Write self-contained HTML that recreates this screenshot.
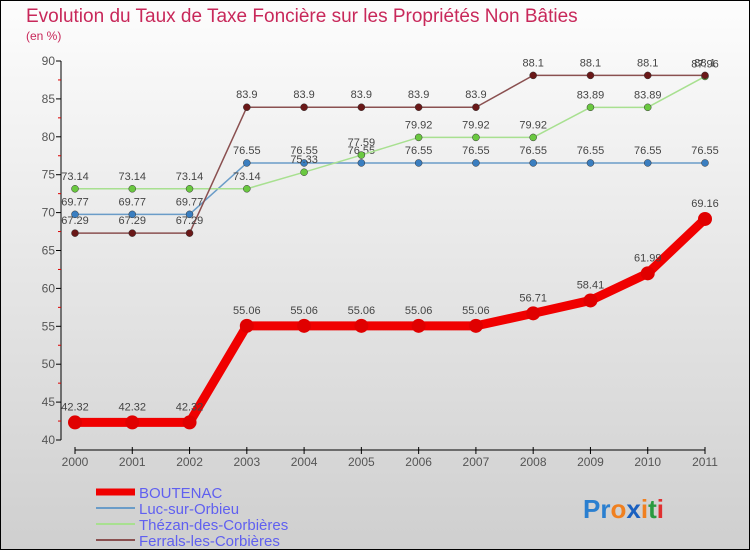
<!DOCTYPE html>
<html><head><meta charset="utf-8"><style>
body{margin:0}
svg{display:block;font-family:"Liberation Sans",sans-serif}
</style></head><body>
<svg id="chart" width="750" height="550" xmlns="http://www.w3.org/2000/svg">
<defs><linearGradient id="bg" x1="0" y1="0" x2="0" y2="1"><stop offset="0" stop-color="#fdfdfd"/><stop offset="1" stop-color="#cfcfcf"/></linearGradient></defs>
<rect x="0.5" y="0.5" width="749" height="549" fill="url(#bg)" stroke="#000"/>
<text x="26" y="22" font-size="19" fill="#c8285a">Evolution du Taux de Taxe Foncière sur les Propriétés Non Bâties</text>
<text x="26" y="40" font-size="12" fill="#c8285a">(en %)</text>
<g id="axes"></g><g id="series"></g><g id="legend"></g>
<text x="583" y="518" font-size="26" font-weight="bold"><tspan fill="#2a7fd0">Pr</tspan><tspan fill="#f08020">o</tspan><tspan fill="#1a60c0">x</tspan><tspan fill="#f08020">i</tspan><tspan fill="#2a9a40">t</tspan><tspan fill="#e03030">i</tspan></text>
</svg>
<script>
const years=[2000,2001,2002,2003,2004,2005,2006,2007,2008,2009,2010,2011];
const yTicks=[40,45,50,55,60,65,70,75,80,85,90];
const boutenac=[42.32,42.32,42.32,55.06,55.06,55.06,55.06,55.06,56.71,58.41,61.99,69.16];
const luc=[69.77,69.77,69.77,76.55,76.55,76.55,76.55,76.55,76.55,76.55,76.55,76.55];
const thezan=[73.14,73.14,73.14,73.14,75.33,77.59,79.92,79.92,79.92,83.89,83.89,87.96];
const ferrals=[67.29,67.29,67.29,83.9,83.9,83.9,83.9,83.9,88.1,88.1,88.1,88.1];
const seriesNames=["BOUTENAC","Luc-sur-Orbieu","Thézan-des-Corbières","Ferrals-les-Corbières"];
const NS="http://www.w3.org/2000/svg";
const X=i=>75+i*(705-75)/(years.length-1);
const Y=v=>440-(v-40)*(440-61)/50;
function mk(tag,attrs,parent){const e=document.createElementNS(NS,tag);for(const k in attrs)e.setAttribute(k,attrs[k]);parent.appendChild(e);return e;}
const ax=document.getElementById('axes');
let yl=mk('line',{x1:61,y1:Y(90),x2:61,y2:Y(40),stroke:'#000'},ax);


for(let v=40;v<=90;v+=2.5){const isMaj=v%5===0;const t=mk('line',{x1:isMaj?56:58,x2:61,y1:Y(v),y2:Y(v),stroke:isMaj?'#000':'#d00'},ax);

}
yTicks.forEach(v=>{const t=mk('text',{x:55,y:Y(v)+4,'font-size':12,fill:'#555','text-anchor':'end'},ax);t.textContent=v;

});
let xl=mk('line',{x1:X(0),y1:450,x2:X(11),y2:450,stroke:'#000'},ax);


years.forEach((yr,i)=>{const t=mk('line',{x1:X(i),x2:X(i),y1:447,y2:454,stroke:'#000'},ax);


const l=mk('text',{x:X(i),y:466,'font-size':12,fill:'#555','text-anchor':'middle'},ax);l.textContent=yr;

});
const sg=document.getElementById('series');
const defs=[[luc,'#6a9cc8','#3a7ec0',1.5,3.5],[thezan,'#a8e090','#6ac840',1.5,3.5],[ferrals,'#8a5050','#6a1818',1.5,3.5],[boutenac,'#f00000','#e00000',9,7]];
const keys=['luc','thezan','ferrals','boutenac'];
defs.forEach(([d,lc,pc,w,r],si)=>{
 const g=mk('g',{},sg);
 
 
 const p=mk('polyline',{points:d.map((v,i)=>X(i)+','+Y(v)).join(' '),fill:'none',stroke:lc,'stroke-width':w,'stroke-linejoin':'round'},g);
 
 
 d.forEach((v,i)=>{const c=mk('circle',{cx:X(i),cy:Y(v),r:r,fill:pc,stroke:w>2?'none':'#333','stroke-width':0.5},g);
 
 
 const t=mk('text',{x:X(i),y:Y(v)-(w>2?12:9),'font-size':11,fill:'#444','text-anchor':'middle'},g);t.textContent=v;
 
 });
});
const lg=document.getElementById('legend');
const lcols=['#f00000','#6a9cc8','#a8e090','#8a5050'];
seriesNames.forEach((n,i)=>{const y=492+i*16;
 const l=mk('line',{x1:96,x2:135,y1:y,y2:y,stroke:lcols[i],'stroke-width':i?2:7},lg);
 
 
 const t=mk('text',{x:139,y:y+6,'font-size':15,fill:'#6060f0'},lg);t.textContent=n;
 
 });
</script>
</body></html>
